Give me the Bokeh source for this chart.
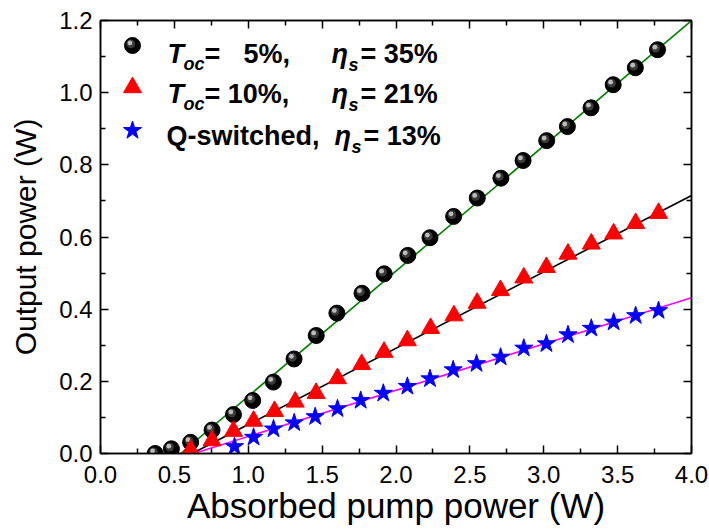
import numpy as np
from bokeh.plotting import figure
from bokeh.models import Range1d, LinearAxis, FixedTicker, PrintfTickFormatter
from bokeh.core.properties import value
from bokeh.embed import file_html
from bokeh.resources import INLINE

# ---------------- data ----------------
x_oc5 = [0.37, 0.48, 0.61, 0.755, 0.90, 1.03, 1.17, 1.31, 1.46, 1.60, 1.77, 1.92,
         2.08, 2.23, 2.39, 2.55, 2.71, 2.86, 3.02, 3.16, 3.32, 3.47, 3.62, 3.77]
y_oc5 = [0.0, 0.013, 0.031, 0.065, 0.108, 0.147, 0.198, 0.262, 0.327, 0.389, 0.444, 0.498,
         0.549, 0.598, 0.657, 0.708, 0.763, 0.812, 0.867, 0.906, 0.958, 1.022, 1.069, 1.119]

x_oc10 = [0.61, 0.755, 0.90, 1.036, 1.178, 1.318, 1.459, 1.604, 1.768, 1.919, 2.077,
          2.234, 2.392, 2.549, 2.707, 2.865, 3.018, 3.164, 3.322, 3.473, 3.622, 3.777]
y_oc10 = [0.010, 0.036, 0.062, 0.090, 0.117, 0.143, 0.167, 0.208, 0.247, 0.281, 0.313,
          0.347, 0.382, 0.417, 0.452, 0.487, 0.516, 0.553, 0.581, 0.609, 0.638, 0.666]

x_qs = [0.907, 1.036, 1.171, 1.311, 1.453, 1.604, 1.761, 1.914, 2.077, 2.23, 2.387,
        2.545, 2.708, 2.865, 3.018, 3.164, 3.322, 3.473, 3.622, 3.777]
y_qs = [0.019, 0.045, 0.068, 0.085, 0.102, 0.124, 0.147, 0.167, 0.186, 0.207, 0.232,
        0.249, 0.267, 0.292, 0.304, 0.329, 0.347, 0.364, 0.382, 0.396]

fit_slope = [0.347, 0.2115, 0.128]
fit_threshold = [0.543, 0.62, 0.63]
fit_colors = ["#008000", "#000000", "#ff00ff"]

x_ticks = [0.0, 0.5, 1.0, 1.5, 2.0, 2.5, 3.0, 3.5, 4.0]
x_minor = [0.25, 0.75, 1.25, 1.75, 2.25, 2.75, 3.25, 3.75]
y_ticks = [0.0, 0.2, 0.4, 0.6, 0.8, 1.0, 1.2]
y_minor = [0.1, 0.3, 0.5, 0.7, 0.9, 1.1]

x_label = "Absorbed pump power (W)"
y_label = "Output power (W)"

# ---------------- layout ----------------
W, H = 709, 531
FL, FR, FT, FB = 100, 691, 20, 453   # frame edges in px
XMAX, YMAX = 4.0, 1.2
sx = XMAX / (FR - FL)
sy = YMAX / (FB - FT)

def dx(px):  # px -> data x
    return (px - FL) * sx

def dy(py):
    return (FB - py) * sy

FONT = "Liberation Sans"

p = figure(width=W, height=H, output_backend="svg", toolbar_location=None,
           x_range=Range1d(0, XMAX), y_range=Range1d(0, YMAX),
           min_border_left=FL, min_border_right=W - FR,
           min_border_top=FT, min_border_bottom=H - FB,
           x_axis_label=x_label, y_axis_label=y_label)
p.grid.visible = False
p.outline_line_color = "black"
p.outline_line_width = 1.5
p.background_fill_color = "white"
p.border_fill_color = "white"

def style_axis(ax, ticks, minor, labels=True):
    ax.ticker = FixedTicker(ticks=ticks, minor_ticks=minor)
    ax.axis_line_color = "black"
    ax.axis_line_width = 1.5
    ax.major_tick_in = 8
    ax.major_tick_out = 0
    ax.minor_tick_in = 5
    ax.minor_tick_out = 0
    ax.major_tick_line_width = 1.5
    ax.minor_tick_line_width = 1.5
    ax.major_tick_line_color = "black"
    ax.minor_tick_line_color = "black"
    ax.major_label_text_font = FONT
    if labels:
        ax.major_label_text_color = "black"
        ax.major_label_text_font_size = "24px"
    else:
        ax.major_label_text_color = None
        ax.major_label_text_font_size = "8px"
        ax.major_label_standoff = 0
    ax.axis_label_text_font = FONT
    ax.axis_label_text_font_style = "normal"
    ax.axis_label_text_color = "black"

xa = p.xaxis[0]
ya = p.yaxis[0]
style_axis(xa, x_ticks, x_minor)
style_axis(ya, y_ticks, y_minor)
xa.formatter = PrintfTickFormatter(format="%.1f")
ya.formatter = PrintfTickFormatter(format="%.1f")
xa.major_label_standoff = 12
ya.major_label_standoff = 8
xa.axis_label_text_font_size = "35px"
ya.axis_label_text_font_size = "30px"
xa.axis_label_standoff = 0
ya.axis_label_standoff = 14

top = LinearAxis()
right = LinearAxis()
style_axis(top, x_ticks, x_minor, labels=False)
style_axis(right, y_ticks, y_minor, labels=False)
p.add_layout(top, "above")
p.add_layout(right, "right")

# ---------------- fit lines ----------------
for s, t, c in zip(fit_slope, fit_threshold, fit_colors):
    xs = np.array([t, XMAX])
    p.line(xs, s * (xs - t), line_color=c, line_width=1.6)

# ---------------- markers ----------------
def sphere(xs, ys, size=16):
    xs = np.asarray(xs, float)
    ys = np.asarray(ys, float)
    p.scatter(xs, ys, marker="circle", size=size, fill_color="black", line_color="black")
    p.scatter(xs - 1.7 * sx, ys + 1.7 * sy, marker="circle", size=size * 0.55,
              fill_color="#3a3a3a", line_color=None)
    p.scatter(xs - 2.6 * sx, ys + 2.6 * sy, marker="circle", size=size * 0.3,
              fill_color="#bcbcbc", line_color=None)

TRI, STAR = 18, 19
sphere(x_oc5, y_oc5)
p.scatter(x_oc10, y_oc10, marker="triangle", size=TRI, fill_color="#ff0000", line_color="#ff0000")
p.scatter(x_qs, y_qs, marker="star", size=STAR, fill_color="#0000ff", line_color="#0000ff")

# ---------------- legend ----------------
sphere([dx(132)], [dy(45)])
p.scatter([dx(132)], [dy(87)], marker="triangle", size=TRI, fill_color="#ff0000", line_color="#ff0000")
p.scatter([dx(132)], [dy(130)], marker="star", size=STAR, fill_color="#0000ff", line_color="#0000ff")

def txt(px, py, s, size, style):
    p.text([dx(px)], [dy(py)], text=[s], text_font=value(FONT), text_font_size=size,
           text_font_style=style, text_color="black", text_align="left",
           text_baseline="alphabetic")

BIG, SUB = "27px", "18px"
# row 1
txt(167, 53, "T", BIG, "bold italic")
txt(183, 63, "oc", SUB, "bold italic")
txt(204, 53, "=", BIG, "bold")
txt(243, 53, "5%,", BIG, "bold")
txt(331, 53, "\u03b7", BIG, "bold italic")
txt(348, 64, "s", SUB, "bold italic")
txt(360, 53, "= 35%", BIG, "bold")
# row 2
txt(167, 93, "T", BIG, "bold italic")
txt(183, 103, "oc", SUB, "bold italic")
txt(204, 93, "= 10%,", BIG, "bold")
txt(331, 93, "\u03b7", BIG, "bold italic")
txt(348, 104, "s", SUB, "bold italic")
txt(360, 93, "= 21%", BIG, "bold")
# row 3
txt(166, 135, "Q-switched,", BIG, "bold")
txt(334, 135, "\u03b7", BIG, "bold italic")
txt(351, 146, "s", SUB, "bold italic")
txt(363, 135, "= 13%", BIG, "bold")

open("out.html", "w").write(file_html(p, INLINE))
